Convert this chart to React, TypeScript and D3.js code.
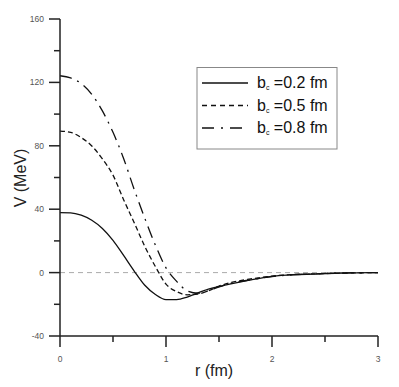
import React from "react";
import * as d3 from "d3";

const rValues = [0, 0.1, 0.2, 0.3, 0.4, 0.5, 0.6, 0.7, 0.8, 0.9, 1.0, 1.1, 1.2, 1.3, 1.4, 1.5, 1.6, 1.8, 2.0, 2.2, 2.4, 2.6, 2.8, 3.0];
const vB02 = [37.8, 37.7, 36.2, 33.0, 27.8, 20.3, 10.8, 1.0, -8.0, -13.8, -17.0, -17.0, -15.4, -12.8, -10.5, -8.8, -7.3, -4.6, -2.4, -1.3, -0.9, -0.4, -0.15, 0];
const vB05 = [89.3, 88.5, 85.2, 79.9, 71.7, 61.5, 46.0, 31.5, 16.5, 3.8, -7.3, -12.0, -14.0, -13.5, -11.5, -8.5, -6.5, -4.0, -2.2, -1.2, -0.8, -0.4, -0.15, 0];
const vB08 = [124.2, 122.8, 119.3, 112.5, 102.0, 88.5, 72.0, 52.5, 34.3, 17.3, 3.0, -5.5, -11.5, -13.0, -11.5, -9.0, -7.0, -4.5, -2.5, -1.4, -0.8, -0.4, -0.15, 0];

const seriesLabels = ["=0.2 fm", "=0.5 fm", "=0.8 fm"];
const xTicks = [0, 1, 2, 3];
const xMinorTicks = [0.5, 1.5, 2.5];
const yTicks = [-40, 0, 40, 80, 120, 160];
const yMinorTicks = [-20, 20, 60, 100, 140];

const dashes = ["", "5,3", "12,6,2,6"];
const legendDashes = ["", "5,4", "12,7,2,7"];

export default function App() {
  const x = d3.scaleLinear().domain([0, 3]).range([60, 378]);
  const y = d3.scaleLinear().domain([-40, 160]).range([336, 19]);
  const series = [vB02, vB05, vB08];
  const line = d3
    .line<number>()
    .x((_, i) => x(rValues[i]))
    .y((d) => y(d))
    .curve(d3.curveMonotoneX);

  const axisColor = "#222";
  const tickFont = "Liberation Sans, Arial, sans-serif";

  return (
    <svg width={399} height={387} style={{ position: "absolute", left: 0, top: 0, background: "#fff" }}>
      <rect x={0} y={0} width={399} height={387} fill="#fff" />
      <line x1={x(0)} x2={x(3)} y1={y(0)} y2={y(0)} stroke="#aaa" strokeWidth={1} strokeDasharray="5,4" />
      {series.map((s, k) => (
        <path key={k} d={line(s) || ""} fill="none" stroke="#111" strokeWidth={1.3} strokeDasharray={dashes[k]} />
      ))}
      <line x1={60} x2={60} y1={y(160)} y2={y(-40)} stroke={axisColor} strokeWidth={1.5} />
      {yTicks.map((t) => (
        <g key={t}>
          <line x1={49} x2={60} y1={y(t)} y2={y(t)} stroke={axisColor} strokeWidth={1.5} />
          <text x={44} y={y(t) + 3} textAnchor="end" fontSize={8.5} fill="#555" fontFamily={tickFont}>
            {t}
          </text>
        </g>
      ))}
      {yMinorTicks.map((t) => (
        <line key={t} x1={54} x2={60} y1={y(t)} y2={y(t)} stroke={axisColor} strokeWidth={1.5} />
      ))}
      <line x1={x(0)} x2={x(3)} y1={336} y2={336} stroke={axisColor} strokeWidth={1.5} />
      {xTicks.map((t) => (
        <g key={t}>
          <line x1={x(t)} x2={x(t)} y1={336} y2={347} stroke={axisColor} strokeWidth={1.5} />
          <text x={x(t)} y={362} textAnchor="middle" fontSize={8.5} fill="#555" fontFamily={tickFont}>
            {t}
          </text>
        </g>
      ))}
      {xMinorTicks.map((t) => (
        <line key={t} x1={x(t)} x2={x(t)} y1={336} y2={342} stroke={axisColor} strokeWidth={1.5} />
      ))}
      <text x={214} y={376} textAnchor="middle" fontSize={16} fill="#222" fontFamily={tickFont}>
        r (fm)
      </text>
      <text
        transform={`translate(26,178) rotate(-90)`}
        textAnchor="middle"
        fontSize={16}
        fill="#222"
        fontFamily={tickFont}
      >
        V (MeV)
      </text>
      <rect x={197} y={67.5} width={140} height={81.5} fill="#fff" stroke="#888" strokeWidth={1} />
      {seriesLabels.map((lab, k) => {
        const ly = 83 + k * 22.5;
        return (
          <g key={k}>
            <line x1={202} x2={248} y1={ly} y2={ly} stroke="#111" strokeWidth={1.4} strokeDasharray={legendDashes[k]} />
            <text x={257} y={ly + 5} fontSize={16} fill="#111" fontFamily={tickFont}>
              b
              <tspan fontSize={7} dy={2}>c</tspan>
              <tspan dy={-2}> {lab}</tspan>
            </text>
          </g>
        );
      })}
    </svg>
  );
}
